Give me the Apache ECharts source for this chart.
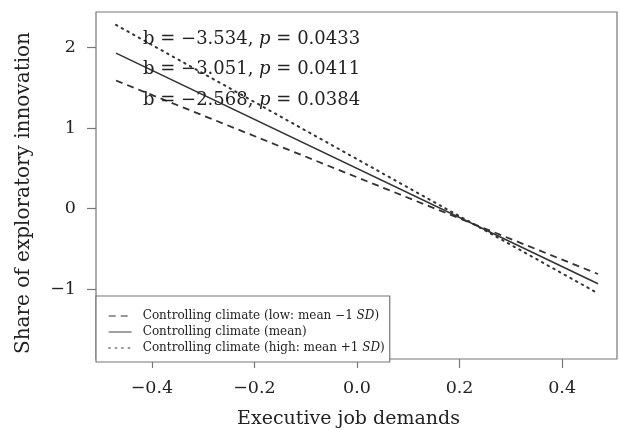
<!DOCTYPE html>
<html><head><meta charset="utf-8">
<script src="https://cdn.jsdelivr.net/npm/echarts@6/dist/echarts.min.js"></script>
<style>html,body{margin:0;padding:0;background:#fff}#c{width:620px;height:434px}</style>
</head><body><div id="c"></div>
<script>
const xs = [-0.47, 0.47];
const lowClimate = [1.59, -0.81];
const meanClimate = [1.93, -0.93];
const highClimate = [2.28, -1.05];
const seriesNames = ['Controlling climate (low: mean \u22121 SD)', 'Controlling climate (mean)', 'Controlling climate (high: mean +1 SD)'];
const xTicks = [-0.4, -0.2, 0.0, 0.2, 0.4];
const yTicks = [-1, 0, 1, 2];
const annotations = [['\u22123.534', '0.0433'], ['\u22123.051', '0.0411'], ['\u22122.568', '0.0384']];

const FONT = 'DejaVu Serif';
const INK = '#222';
const LINE = '#333';
const fmt = (v, d) => (v < 0 ? '\u2212' : '') + Math.abs(v).toFixed(d);
const pair = arr => xs.map((x, i) => [x, arr[i]]);

const chart = echarts.init(document.getElementById('c'), null, {renderer: 'canvas'});
chart.setOption({
  animation: false,
  grid: {left: 96, top: 12, right: 3, bottom: 73, show: true, borderColor: '#777', borderWidth: 1.2, backgroundColor: 'transparent'},
  xAxis: {
    type: 'value', min: -0.509, max: 0.507,
    name: 'Executive job demands', nameLocation: 'middle', nameGap: 51,
    nameTextStyle: {fontFamily: FONT, fontSize: 19, color: INK, padding: [0, 16, 0, 0]},
    axisLine: {show: false, onZero: false},
    splitLine: {show: false},
    axisTick: {show: true, length: 9, inside: false, customValues: xTicks, lineStyle: {color: '#777', width: 1.2}},
    axisLabel: {customValues: xTicks, margin: 20, fontFamily: FONT, fontSize: 17.5, color: INK, formatter: v => fmt(v, 1)}
  },
  yAxis: {
    type: 'value', min: -1.864, max: 2.44,
    name: 'Share of exploratory innovation', nameLocation: 'middle', nameGap: 62, nameRotate: 90,
    nameTextStyle: {fontFamily: FONT, fontSize: 20, color: INK, padding: [0, 15, 0, 0]},
    axisLine: {show: false, onZero: false},
    splitLine: {show: false},
    axisTick: {show: true, length: 9, inside: false, customValues: yTicks, lineStyle: {color: '#777', width: 1.2}},
    axisLabel: {customValues: yTicks, margin: 20, fontFamily: FONT, fontSize: 17.5, color: INK, formatter: v => fmt(v, 0)}
  },
  legend: {
    orient: 'vertical', left: 96, top: 296, width: 291,
    padding: [14, 5, 8, 12], itemGap: 4, itemWidth: 23, itemHeight: 10,
    backgroundColor: '#fff', borderColor: '#777', borderWidth: 1.2,
    data: seriesNames,
    itemStyle: {color: 'rgba(0,0,0,0)', borderWidth: 0, opacity: 0},
    lineStyle: {color: '#777', width: 1.4},
    textStyle: {fontFamily: FONT, fontSize: 12, color: INK, padding: [0, 0, 0, 6],
      rich: {i: {fontFamily: FONT, fontSize: 12, fontStyle: 'italic', color: INK}}},
    formatter: n => {
      const m = n.match(/^(.*)SD\)$/);
      return m ? m[1] + '{i|SD})' : n;
    },
    selectedMode: false
  },
  series: [
    {name: seriesNames[0], type: 'line', data: pair(lowClimate), showSymbol: false, symbol: 'none',
     lineStyle: {color: LINE, width: 1.8, type: [7, 5]}, z: 2},
    {name: seriesNames[1], type: 'line', data: pair(meanClimate), showSymbol: false, symbol: 'none',
     lineStyle: {color: LINE, width: 1.6, type: 'solid'}, z: 2},
    {name: seriesNames[2], type: 'line', data: pair(highClimate), showSymbol: false, symbol: 'none',
     lineStyle: {color: LINE, width: 2, type: [1.5, 5], cap: 'round'}, z: 2}
  ],
  graphic: annotations.map((a, i) => ({
    type: 'text', left: 143, top: 30 + i * 30.5, z: 10,
    style: {
      text: 'b = ' + a[0] + ', {i|p} = ' + a[1],
      fontFamily: FONT, fontSize: 18, fill: INK,
      rich: {i: {fontFamily: FONT, fontSize: 18, fontStyle: 'italic', fill: INK}}
    }
  }))
});
</script></body></html>
